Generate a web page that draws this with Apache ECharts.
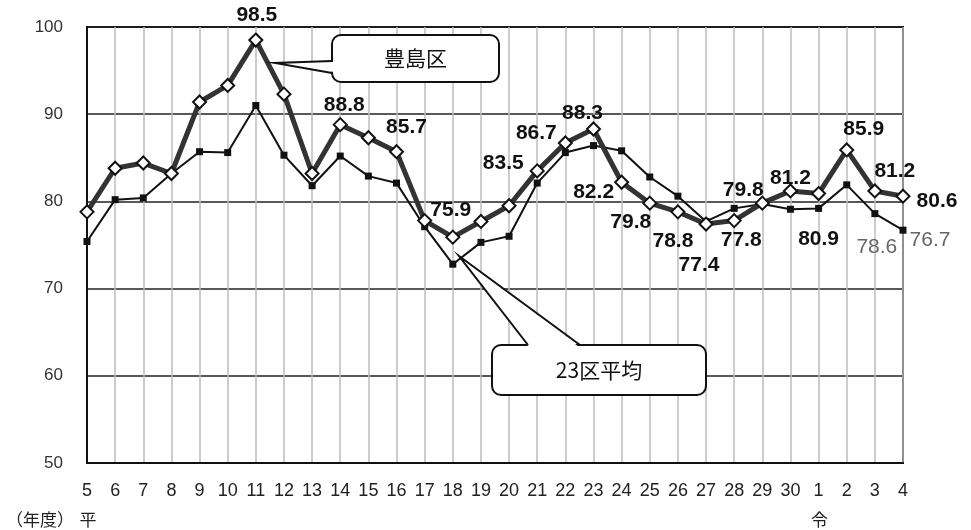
<!DOCTYPE html>
<html>
<head>
<meta charset="utf-8">
<script src="https://cdn.jsdelivr.net/npm/echarts@6/dist/echarts.min.js"></script>
<style>
html,body{margin:0;padding:0;background:#fff;}
#chart{width:971px;height:530px;}
</style>
</head>
<body>
<div id="chart"></div>
<script>
// ---- data ----
const categories = ['5','6','7','8','9','10','11','12','13','14','15','16','17','18','19','20','21','22','23','24','25','26','27','28','29','30','1','2','3','4'];
const toshima = [78.8,83.8,84.4,83.2,91.4,93.3,98.5,92.3,83.2,88.8,87.3,85.7,77.8,75.9,77.7,79.5,83.5,86.7,88.3,82.2,79.8,78.8,77.4,77.8,79.8,81.2,80.9,85.9,81.2,80.6];
const avg23 = [75.4,80.2,80.4,83.2,85.7,85.6,91.0,85.3,81.8,85.2,82.9,82.1,77.1,72.8,75.3,76.0,82.1,85.6,86.4,85.8,82.8,80.6,77.7,79.2,79.7,79.1,79.2,81.9,78.6,76.7];
const yTicks = [50,60,70,80,90,100];
const seriesNames = ['豊島区','23区平均'];
const eraLabels = [{index:0,text:'平'},{index:26,text:'令'}];
const yearUnit = '（年度）';

// ---- label placement (offset of label centre from point, px) ----
const toshimaLabelPos = {
  6:[1,-25], 9:[4,-19], 11:[10,-24], 13:[-2,-27], 16:[-34,-8], 17:[-29,-10],
  18:[-11,-16], 19:[-28,10], 20:[-19,19], 21:[-5,29], 22:[-7,41], 23:[7,20],
  24:[-19,-13], 25:[0,-13], 26:[0,46], 27:[17,-21], 28:[20,-20], 29:[34,5]
};
const avgLabelPos = {28:[2,34], 29:[27,10]};

const labelFont = '"Liberation Sans",Arial,sans-serif';

function buildData(values, pos){
  return values.map((v,i)=> pos[i] ? {value:v, label:{show:true, offset:pos[i]}} : v);
}

const chart = echarts.init(document.getElementById('chart'), null, {renderer:'canvas'});
const option = {
  animation:false,
  backgroundColor:'#fff',
  grid:{left:87,right:68,top:27,bottom:67,show:true,borderColor:'#111',borderWidth:2,backgroundColor:'transparent'},
  xAxis:{
    type:'category', data:categories, boundaryGap:false,
    axisLine:{show:true,lineStyle:{color:'#111',width:2}},
    axisTick:{show:false},
    axisLabel:{color:'#222',fontSize:18,fontFamily:'"Liberation Sans",Arial,sans-serif',margin:19,interval:0},
    splitLine:{show:true,lineStyle:{color:'#bdbdbd',width:1.5}}
  },
  yAxis:{
    type:'value', min:yTicks[0], max:yTicks[yTicks.length-1], interval:10,
    axisLine:{show:true,lineStyle:{color:'#111',width:2}},
    axisTick:{show:false},
    axisLabel:{color:'#333',fontSize:17,fontFamily:'"Liberation Sans",Arial,sans-serif',margin:24},
    splitLine:{show:true,lineStyle:{color:'#222',width:1.5}}
  },
  series:[
    {
      name:seriesNames[1], type:'line', data:buildData(avg23, avgLabelPos), z:3,
      symbol:'rect', symbolSize:7, showAllSymbol:true,
      lineStyle:{color:'#111',width:2},
      itemStyle:{color:'#111',borderColor:'#111',borderWidth:0},
      label:{show:false,position:'inside',color:'#666',fontSize:21,fontWeight:'normal',fontFamily:labelFont,formatter:p=>p.value.toFixed(1)}
    },
    {
      name:seriesNames[0], type:'line', data:buildData(toshima, toshimaLabelPos), z:4,
      symbol:'diamond', symbolSize:13, showAllSymbol:true,
      lineStyle:{color:'#333',width:5},
      itemStyle:{color:'#fff',borderColor:'#111',borderWidth:2},
      label:{show:false,position:'inside',color:'#111',fontSize:21,fontWeight:'bold',fontFamily:labelFont,formatter:p=>p.value.toFixed(1)}
    }
  ]
};
chart.setOption(option);

// ---- annotations ----
const cjk = '"Noto Sans CJK JP","Noto Sans CJK SC",sans-serif';
const graphics = [];
function callout(box, tail, label, fontSize){
  graphics.push({type:'rect', z:10, shape:{x:box[0],y:box[1],width:box[2],height:box[3],r:9}, style:{fill:'#fff',stroke:'#111',lineWidth:2}});
  graphics.push({type:'polygon', z:11, shape:{points:tail.fill}, style:{fill:'#fff',stroke:null}});
  graphics.push({type:'polyline', z:12, shape:{points:tail.edge}, style:{stroke:'#111',lineWidth:2,fill:null}});
  graphics.push({type:'text', z:13, x:box[0]+box[2]/2, y:box[1]+box[3]/2, style:{text:label,fill:'#111',font:fontSize+'px '+cjk,textAlign:'center',textVerticalAlign:'middle'}});
}
// 豊島区
callout([332,35,167,47],
  {fill:[[334,62],[275,63],[334,72]], edge:[[332,61],[275,63],[332,73]]},
  seriesNames[0], 21);
// 23区平均
callout([492,345,214,50],
  {fill:[[529,347],[459,256],[579,347]], edge:[[528,345],[459,256],[580,345]]},
  seriesNames[1], 21);
// bottom era / unit labels
graphics.push({type:'text', x:6, y:520, style:{text:yearUnit,fill:'#222',font:'17px '+cjk,textAlign:'left',textVerticalAlign:'middle'}});
eraLabels.forEach(e=>{
  const px = chart.convertToPixel({xAxisIndex:0}, e.index);
  graphics.push({type:'text', x:px+1, y:520, style:{text:e.text,fill:'#222',font:'17px '+cjk,textAlign:'center',textVerticalAlign:'middle'}});
});
chart.setOption({graphic:graphics});
</script>
</body>
</html>
